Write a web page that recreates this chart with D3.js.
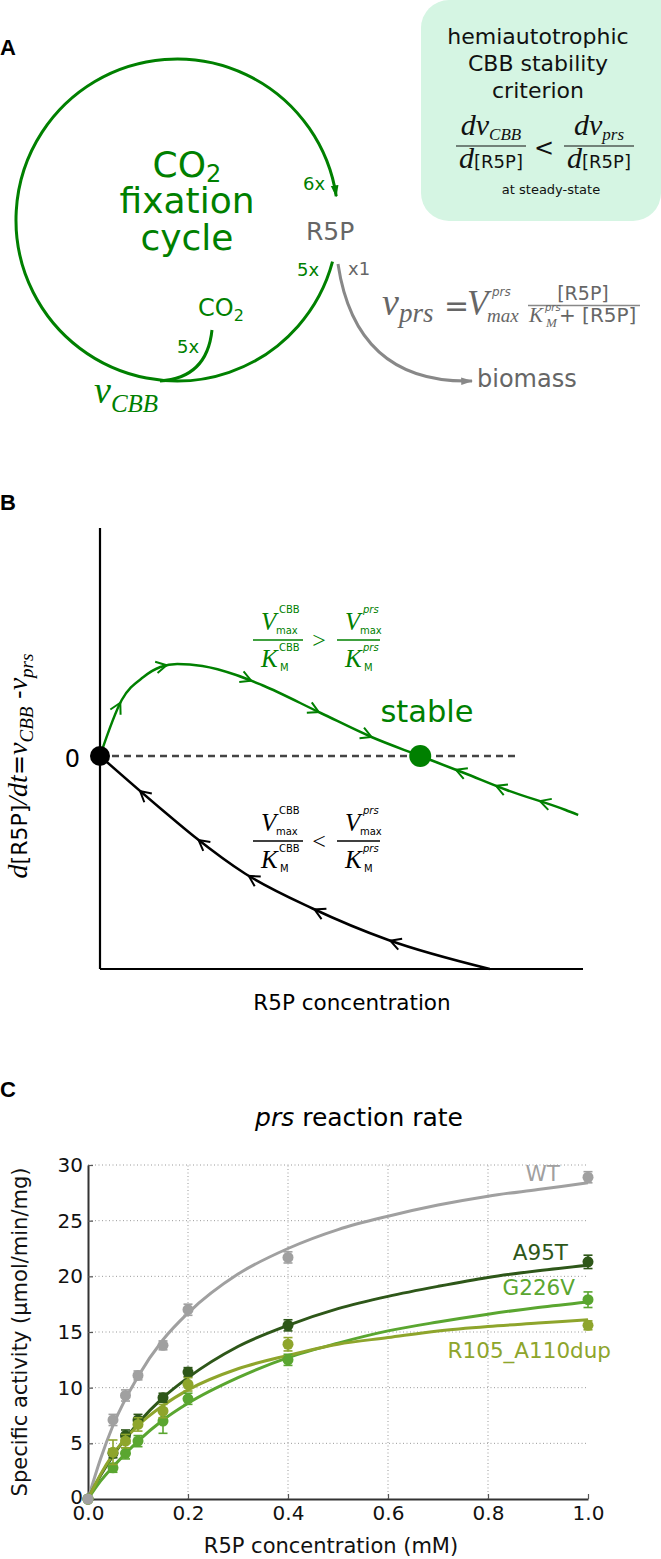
<!DOCTYPE html>
<html>
<head>
<meta charset="utf-8">
<script src="https://cdn.jsdelivr.net/npm/d3@7"></script>
<style>
  body { margin: 0; background: #fff; }
  svg { display: block; font-family: "DejaVu Sans", sans-serif; }
</style>
</head>
<body>
<svg id="fig" width="661" height="1559"></svg>
<script>
// ---- panel B: schematic phase curves (arbitrary units) ----
const stableX = [0, 0.45, 0.90, 1.25, 1.60, 2.12, 2.82, 3.35, 4.57, 5.62, 6.63, 7.54, 8.42, 9.64, 9.90];
const stableY = [0, 1.12, 1.58, 1.78, 1.84, 1.80, 1.62, 1.42, 0.86, 0.38, 0, -0.34, -0.68, -1.08, -1.18];
const unstableX = [0, 1.29, 1.95, 3.00, 4.40, 5.97, 8.07];
const unstableY = [0, -1.08, -1.61, -2.35, -3.05, -3.68, -4.26];
const stableArrowsFwd = [0.42, 1.38, 3.13, 4.53, 5.62];
const stableArrowsBack = [7.37, 8.2, 9.11];
const unstableArrowsBack = [0.83, 2.04, 3.08, 4.44, 6.01];
const stablePoint = [6.63, 0];

// ---- panel C: prs specific activity (umol/min/mg) vs R5P (mM) ----
const concMM = [0, 0.05, 0.075, 0.1, 0.15, 0.2, 0.4, 1.0];
const rateWT    = [0, 7.1, 9.3, 11.1, 13.8, 17.0, 21.7, 28.9];
const rateA95T  = [0, 4.1, 5.7, 7.1, 9.1, 11.4, 15.6, 21.3];
const rateG226V = [0, 2.8, 4.1, 5.2, 7.0, 9.0, 12.5, 17.9];
const rateR105  = [0, 4.2, 5.2, 6.7, 7.9, 10.3, 13.9, 15.6];
const errWT    = [0.2, 0.5, 0.5, 0.4, 0.4, 0.5, 0.5, 0.5];
const errA95T  = [0.2, 0.4, 0.5, 0.5, 0.4, 0.4, 0.5, 0.6];
const errG226V = [0.2, 0.4, 0.5, 0.5, 1.1, 0.5, 0.5, 0.7];
const errR105  = [0.2, 1.1, 0.6, 0.6, 0.6, 0.6, 0.6, 0.4];
// fitted saturation curves
const fitConc   = [0, 0.025, 0.05, 0.1, 0.15, 0.2, 0.3, 0.4, 0.5, 0.6, 0.7, 0.8, 0.9, 1.0];
const fitWT     = [0, 3.6, 6.6, 11.0, 14.3, 16.7, 20.2, 22.5, 24.2, 25.4, 26.4, 27.2, 27.8, 28.4];
const fitA95T   = [0, 2.1, 3.9, 6.8, 9.1, 10.9, 13.7, 15.6, 17.1, 18.2, 19.1, 19.9, 20.5, 21.0];
const fitG226V  = [0, 1.6, 2.9, 5.2, 7.1, 8.6, 10.9, 12.7, 14.0, 15.1, 15.9, 16.6, 17.2, 17.7];
const fitR105   = [0, 2.2, 4.0, 6.6, 8.4, 9.8, 11.7, 12.9, 13.9, 14.5, 15.1, 15.5, 15.8, 16.1];
const strainNames = ["WT", "A95T", "G226V", "R105_A110dup"];
const xTicksC = [0, 0.2, 0.4, 0.6, 0.8, 1.0];
const yTicksC = [0, 5, 10, 15, 20, 25, 30];

const green = "#008000";
const serif = "'Liberation Serif', 'DejaVu Serif', serif";

const svg = d3.select("#fig");
svg.append("rect").attr("width", 661).attr("height", 1559).attr("fill", "#fff");
const defs = svg.append("defs");

function arrowMarker(id, color) {
  defs.append("marker")
    .attr("id", id)
    .attr("viewBox", "0 0 10 10")
    .attr("refX", 9).attr("refY", 5)
    .attr("markerWidth", 12).attr("markerHeight", 12)
    .attr("markerUnits", "userSpaceOnUse")
    .attr("orient", "auto")
    .append("path")
    .attr("d", "M0,1.8 L10,5 L0,8.2 Z")
    .attr("fill", color);
}
arrowMarker("arrGreen", green);
arrowMarker("arrGray", "#888");

// text with sub/superscript pieces
function rich(parent, x, y, parts, attrs = {}) {
  const t = parent.append("text").attr("x", x).attr("y", y);
  Object.entries(attrs).forEach(([k, v]) => t.attr(k, v));
  let shift = 0;
  parts.forEach(p => {
    const s = t.append("tspan").text(p.t);
    const want = p.shift || 0;
    if (want !== shift) { s.attr("dy", want - shift); shift = want; }
    if (p.size) s.attr("font-size", p.size);
    if (p.it) s.attr("font-style", "italic");
    if (p.serif) s.attr("font-family", serif);
    if (p.dx) s.attr("dx", p.dx);
  });
  return t;
}

function label(parent, x, y, str, size, attrs = {}) {
  const t = parent.append("text").attr("x", x).attr("y", y).attr("font-size", size).text(str);
  Object.entries(attrs).forEach(([k, v]) => t.attr(k, v));
  return t;
}

function panelLetter(x, y, s) {
  svg.append("text").attr("x", x).attr("y", y)
    .attr("font-family", "'Liberation Sans', Arial, sans-serif")
    .attr("font-weight", "bold").attr("font-size", 22).text(s);
}

// =================== panel A ===================
panelLetter(0, 55, "A");
const gA = svg.append("g");

const cyc = { cx: 177, cy: 220, r: 161 };
const arc = d3.path();
arc.arc(cyc.cx, cyc.cy, cyc.r, 15 * Math.PI / 180, 351.5 * Math.PI / 180);
gA.append("path").attr("d", arc.toString())
  .attr("fill", "none").attr("stroke", green).attr("stroke-width", 3)
  .attr("marker-end", "url(#arrGreen)");

gA.append("path").attr("d", "M212,330 Q207,378 160,381")
  .attr("fill", "none").attr("stroke", green).attr("stroke-width", 3);

gA.append("path").attr("d", "M338,264 Q356,384 472,381")
  .attr("fill", "none").attr("stroke", "#888").attr("stroke-width", 3)
  .attr("marker-end", "url(#arrGray)");

rich(gA, 187, 177, [{ t: "CO", size: 36 }, { t: "2", size: 24, shift: 5 }],
  { "text-anchor": "middle", fill: green });
label(gA, 187, 213, "fixation", 36, { "text-anchor": "middle", fill: green });
label(gA, 187, 250, "cycle", 36, { "text-anchor": "middle", fill: green });

label(gA, 303, 190, "6x", 18, { fill: green });
label(gA, 306, 240, "R5P", 25, { fill: "#666" });
label(gA, 297, 276, "5x", 18, { fill: green });
label(gA, 348, 275, "x1", 18, { fill: "#666" });
rich(gA, 198, 316, [{ t: "CO", size: 24 }, { t: "2", size: 16, shift: 5 }], { fill: green });
label(gA, 177, 353, "5x", 18, { fill: green });
rich(gA, 94, 403, [{ t: "v", size: 38, it: 1, serif: 1 }, { t: "CBB", size: 25, it: 1, serif: 1, shift: 9 }],
  { fill: green });
label(gA, 477, 387, "biomass", 24, { fill: "#666" });

// rate law of prs
const gF = gA.append("g").attr("fill", "#666");
rich(gF, 382, 315, [{ t: "v", size: 38, it: 1, serif: 1 }, { t: "prs", size: 27, it: 1, serif: 1, shift: 7 }]);
label(gF, 444, 316, "=", 30);
label(gF, 467, 315, "V", 35, { "font-style": "italic", "font-family": serif });
label(gF, 492, 296, "prs", 12, { "font-style": "italic" });
label(gF, 487, 322, "max", 19, { "font-style": "italic", "font-family": serif });
label(gF, 583, 300, "[R5P]", 19, { "text-anchor": "middle" });
gF.append("line").attr("x1", 528).attr("x2", 640).attr("y1", 305.5).attr("y2", 305.5)
  .attr("stroke", "#888").attr("stroke-width", 1.3);
label(gF, 529, 322, "K", 21, { "font-style": "italic", "font-family": serif });
label(gF, 545, 311, "prs", 10, { "font-style": "italic" });
label(gF, 546, 327, "M", 13, { "font-style": "italic", "font-family": serif });
label(gF, 559, 322, "+ [R5P]", 20);

// stability criterion box
const gBox = svg.append("g");
gBox.append("rect").attr("x", 421).attr("y", 0).attr("width", 240).attr("height", 221)
  .attr("rx", 28).attr("fill", "#d5f5e3");
gBox.append("rect").attr("x", 600).attr("y", 0).attr("width", 61).attr("height", 40).attr("fill", "#d5f5e3");
["hemiautotrophic", "CBB stability", "criterion"].forEach((s, i) =>
  label(gBox, 538, 44 + i * 27, s, 22, { "text-anchor": "middle", fill: "#111" }));
const frac = [{ cx: 491, sub: "CBB" }, { cx: 599, sub: "prs" }];
frac.forEach(f => {
  rich(gBox, f.cx, 135, [
    { t: "dv", size: 30, it: 1, serif: 1 },
    { t: f.sub, size: 17, it: 1, serif: 1, shift: 5 }
  ], { "text-anchor": "middle", fill: "#111" });
  gBox.append("line").attr("x1", f.cx - 35).attr("x2", f.cx + 35).attr("y1", 146).attr("y2", 146)
    .attr("stroke", "#111").attr("stroke-width", 1.2);
  rich(gBox, f.cx, 168, [
    { t: "d", size: 30, it: 1, serif: 1 },
    { t: "[R5P]", size: 18 }
  ], { "text-anchor": "middle", fill: "#111" });
});
label(gBox, 544, 156, "<", 24, { "text-anchor": "middle", fill: "#111" });
label(gBox, 551, 194, "at steady-state", 13, { "text-anchor": "middle", fill: "#111" });

// =================== panel B ===================
panelLetter(0, 510, "B");
const gB = svg.append("g");
const xB = d3.scaleLinear().domain([0, 10]).range([100, 583]);
const yB = d3.scaleLinear().domain([-4.26, 4.56]).range([969, 528]);

gB.append("line").attr("x1", xB(0)).attr("x2", xB(0)).attr("y1", yB(4.56)).attr("y2", yB(-4.26))
  .attr("stroke", "#000").attr("stroke-width", 2.2);
gB.append("line").attr("x1", xB(0)).attr("x2", xB(10)).attr("y1", yB(-4.26)).attr("y2", yB(-4.26))
  .attr("stroke", "#000").attr("stroke-width", 2.2);
gB.append("line").attr("x1", xB(0)).attr("x2", xB(8.65)).attr("y1", yB(0)).attr("y2", yB(0))
  .attr("stroke", "#444").attr("stroke-width", 2.5).attr("stroke-dasharray", "7,5");

const lineB = d3.line().x(d => xB(d[0])).y(d => yB(d[1])).curve(d3.curveMonotoneX);
const stablePath = gB.append("path").datum(d3.zip(stableX, stableY)).attr("d", lineB)
  .attr("fill", "none").attr("stroke", green).attr("stroke-width", 2.5);
const unstablePath = gB.append("path").datum(d3.zip(unstableX, unstableY)).attr("d", lineB)
  .attr("fill", "none").attr("stroke", "#000").attr("stroke-width", 2.5);

function lengthAtX(node, px) {
  let lo = 0, hi = node.getTotalLength();
  for (let i = 0; i < 30; i++) {
    const mid = (lo + hi) / 2;
    if (node.getPointAtLength(mid).x < px) lo = mid; else hi = mid;
  }
  return lo;
}
function chevrons(pathSel, xs, dir, color) {
  const node = pathSel.node();
  xs.forEach(xv => {
    const l = lengthAtX(node, xB(xv));
    const p = node.getPointAtLength(l);
    const q = node.getPointAtLength(l + dir);
    const ang = Math.atan2(q.y - p.y, q.x - p.x);
    const len = 12, spread = 0.5;
    const a1 = [p.x - len * Math.cos(ang - spread), p.y - len * Math.sin(ang - spread)];
    const a2 = [p.x - len * Math.cos(ang + spread), p.y - len * Math.sin(ang + spread)];
    gB.append("path").attr("d", `M${a1[0]},${a1[1]} L${p.x},${p.y} L${a2[0]},${a2[1]}`)
      .attr("fill", "none").attr("stroke", color).attr("stroke-width", 2);
  });
}
chevrons(stablePath, stableArrowsFwd, 1, green);
chevrons(stablePath, stableArrowsBack, -1, green);
chevrons(unstablePath, unstableArrowsBack, -1, "#000");

gB.append("circle").attr("cx", xB(0)).attr("cy", yB(0)).attr("r", 10).attr("fill", "#000");
gB.append("circle").attr("cx", xB(stablePoint[0])).attr("cy", yB(stablePoint[1])).attr("r", 11).attr("fill", green);

label(gB, 80, 767, "0", 24, { "text-anchor": "end", fill: "#000" });
label(gB, 427, 722, "stable", 30.5, { "text-anchor": "middle", fill: green });

function mmRatio(g, color, yLine, sym) {
  const gg = g.append("g").attr("fill", color);
  [[253, 303, "CBB", false], [337, 380, "prs", true]].forEach(([x1, x2, sup, itSup]) => {
    gg.append("line").attr("x1", x1).attr("x2", x2).attr("y1", yLine).attr("y2", yLine)
      .attr("stroke", color).attr("stroke-width", 1.3);
    label(gg, x1 + 8, yLine - 10, "V", 25, { "font-style": "italic", "font-family": serif });
    label(gg, x1 + 26, yLine - 27, sup, 10, itSup ? { "font-style": "italic" } : {});
    label(gg, x1 + 23, yLine - 6, "max", 10);
    label(gg, x1 + 8, yLine + 27, "K", 25, { "font-style": "italic", "font-family": serif });
    label(gg, x1 + 26, yLine + 11, sup, 10, itSup ? { "font-style": "italic" } : {});
    label(gg, x1 + 27, yLine + 31, "M", 10);
  });
  label(gg, 319, yLine + 8, sym, 24, { "text-anchor": "middle", "font-family": serif });
}
mmRatio(gB, green, 640, ">");
mmRatio(gB, "#000", 841, "<");

rich(gB, 0, 0, [
  { t: "d", size: 28, it: 1, serif: 1 },
  { t: "[R5P]", size: 22 },
  { t: "/dt", size: 28, it: 1, serif: 1 },
  { t: "=", size: 24 },
  { t: "v", size: 28, it: 1, serif: 1 },
  { t: "CBB", size: 19, it: 1, serif: 1, shift: 6 },
  { t: " -", size: 24 },
  { t: "v", size: 28, it: 1, serif: 1 },
  { t: "prs", size: 19, it: 1, serif: 1, shift: 6 }
], { transform: "translate(27,766) rotate(-90)", "text-anchor": "middle", fill: "#000" });

label(gB, 352, 1010, "R5P concentration", 21.5, { "text-anchor": "middle", fill: "#000" });

// =================== panel C ===================
panelLetter(0, 1097, "C");
const gC = svg.append("g");
const xC = d3.scaleLinear().domain([0, 1]).range([88, 588]);
const yC = d3.scaleLinear().domain([0, 30]).range([1499, 1165]);

rich(gC, 359, 1126, [{ t: "prs", it: 1 }, { t: " reaction rate" }],
  { "text-anchor": "middle", "font-size": 25, fill: "#000" });

gC.append("g").selectAll("line").data(xTicksC.slice(1, -1)).join("line")
  .attr("x1", d => xC(d)).attr("x2", d => xC(d)).attr("y1", yC(0)).attr("y2", yC(30))
  .attr("stroke", "#999").attr("stroke-width", 1).attr("stroke-dasharray", "1,2.5");
gC.append("g").selectAll("line").data(yTicksC.slice(1)).join("line")
  .attr("x1", xC(0)).attr("x2", xC(1)).attr("y1", d => yC(d)).attr("y2", d => yC(d))
  .attr("stroke", "#999").attr("stroke-width", 1).attr("stroke-dasharray", "1,2.5");

const axL = gC.append("g").attr("transform", `translate(${xC(0)},0)`)
  .call(d3.axisLeft(yC).tickValues(yTicksC).tickFormat(d3.format("d"))
    .tickSizeInner(-5).tickSizeOuter(0).tickPadding(5));
const axB = gC.append("g").attr("transform", `translate(0,${yC(0)})`)
  .call(d3.axisBottom(xC).tickValues(xTicksC).tickFormat(d3.format(".1f"))
    .tickSizeInner(-5).tickSizeOuter(0).tickPadding(7));
[axL, axB].forEach(ax => {
  ax.select(".domain").attr("stroke", "#333").attr("stroke-width", 2);
  ax.selectAll(".tick line").attr("stroke", "#555").attr("stroke-width", 1.2);
  ax.selectAll(".tick text").attr("font-size", 20).attr("font-family", "'DejaVu Sans', sans-serif").attr("fill", "#111");
});
axL.selectAll(".tick text").filter(d => d === 0).attr("dy", "0.2em");

label(gC, 331, 1553, "R5P concentration (mM)", 21, { "text-anchor": "middle", fill: "#111" });
label(gC, 0, 0, "Specific activity (µmol/min/mg)", 21,
  { "text-anchor": "middle", transform: "translate(27,1332) rotate(-90)", fill: "#111" });

const seriesC = [
  { name: strainNames[0], rate: rateWT, err: errWT, fit: fitWT, color: "#a0a0a0", lx: 560, ly: 1181 },
  { name: strainNames[1], rate: rateA95T, err: errA95T, fit: fitA95T, color: "#2e5719", lx: 568, ly: 1260 },
  { name: strainNames[2], rate: rateG226V, err: errG226V, fit: fitG226V, color: "#5aa630", lx: 575, ly: 1295 },
  { name: strainNames[3], rate: rateR105, err: errR105, fit: fitR105, color: "#8ea52c", lx: 611, ly: 1358 }
];
const lineC = d3.line().x(d => xC(d[0])).y(d => yC(d[1])).curve(d3.curveMonotoneX);

seriesC.forEach(s => {
  gC.append("path").datum(d3.zip(fitConc, s.fit)).attr("d", lineC)
    .attr("fill", "none").attr("stroke", s.color).attr("stroke-width", 3);
});
[1, 2, 3, 0].forEach(i => {
  const s = seriesC[i];
  const pts = concMM.map((c, j) => ({ c, v: s.rate[j], e: s.err[j] }));
  const g = gC.append("g").attr("stroke", s.color).attr("fill", s.color);
  g.selectAll("line.eb").data(pts).join("line").attr("class", "eb")
    .attr("x1", d => xC(d.c)).attr("x2", d => xC(d.c))
    .attr("y1", d => yC(d.v - d.e)).attr("y2", d => yC(d.v + d.e)).attr("stroke-width", 1.6);
  ["lo", "hi"].forEach(k => {
    g.selectAll("line.cap" + k).data(pts).join("line").attr("class", "cap" + k)
      .attr("x1", d => xC(d.c) - 4.5).attr("x2", d => xC(d.c) + 4.5)
      .attr("y1", d => yC(k === "lo" ? d.v - d.e : d.v + d.e))
      .attr("y2", d => yC(k === "lo" ? d.v - d.e : d.v + d.e)).attr("stroke-width", 1.6);
  });
  g.selectAll("circle").data(pts).join("circle")
    .attr("cx", d => xC(d.c)).attr("cy", d => yC(d.v)).attr("r", 5.5).attr("stroke", "none");
});
seriesC.forEach(s => {
  label(gC, s.lx, s.ly, s.name, 21.5, { "text-anchor": "end", fill: s.color });
});
</script>
</body>
</html>
